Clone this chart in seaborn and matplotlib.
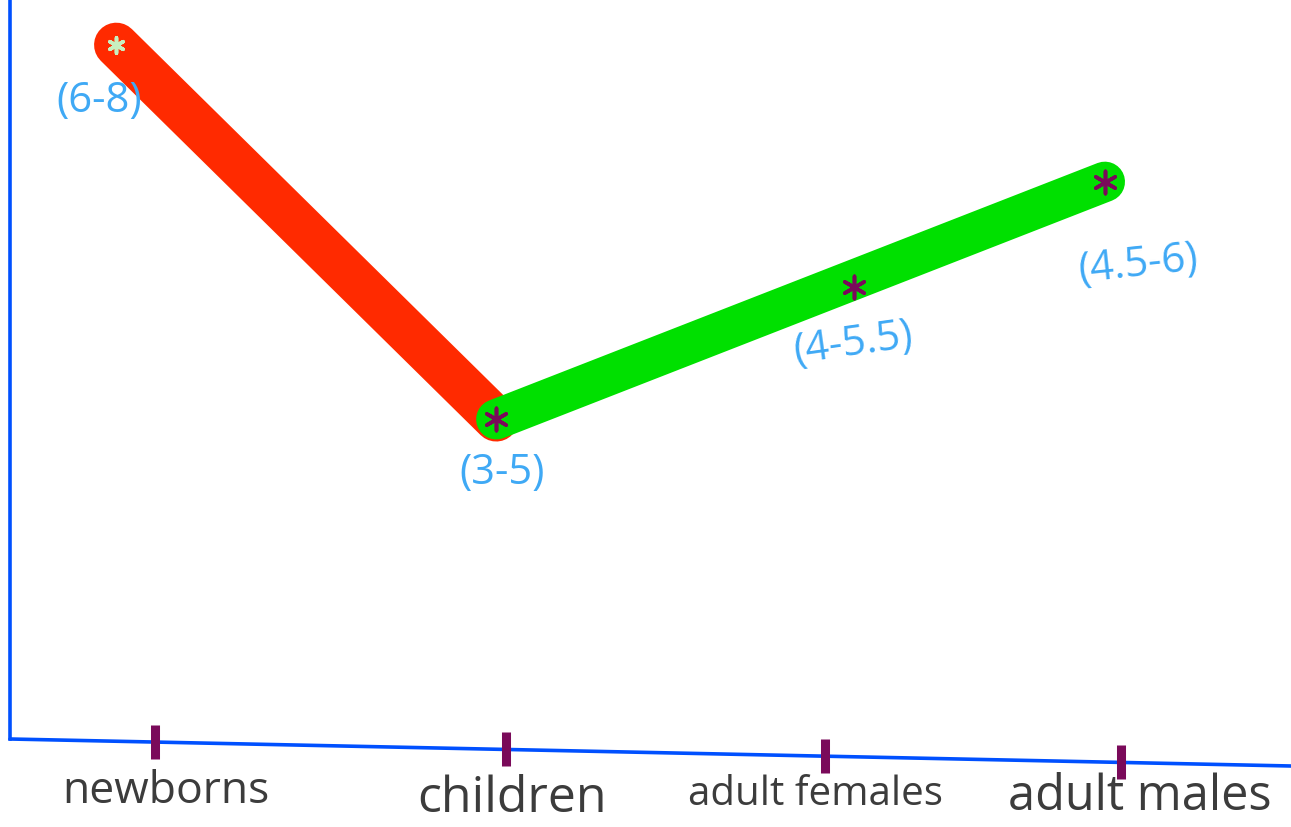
import seaborn as sns
import pandas as pd
from matplotlib import pyplot as plt
from matplotlib.transforms import ScaledTranslation

# groups and the hand-drawn level of each point (0-10 scale)
groups = ['newborns', 'children', 'adult females', 'adult males']
point_pos = [-0.12, 1.06, 2.17, 2.95]
tick_pos = [0.0, 1.09, 2.08, 3.0]
levels = [9.38, 4.32, 6.11, 7.53]
ranges = ['(6-8)', '(3-5)', '(4-5.5)', '(4.5-6)']
label_sizes = [32, 36, 29, 35]

df = pd.DataFrame({'group': groups, 'pos': point_pos, 'level': levels, 'range': ranges})

sns.set_style('white')
plt.rcParams['font.family'] = ['Open Sans', 'DejaVu Sans']

fig = plt.figure(figsize=(12.91, 8.28), dpi=100)
ax = fig.add_axes([10 / 1291, 88 / 828, 1281 / 1291, 740 / 828])
xmin, xmax = -0.45, 3.528
slant = -27 / 740

# red falling segment, green rising segment (children -> adult males)
sns.lineplot(data=df.iloc[[0, 1]], x='pos', y='level', ax=ax, color='#ff2a00',
             linewidth=32, solid_capstyle='round', sort=False)
sns.lineplot(data=df.iloc[[1, 3]], x='pos', y='level', ax=ax, color='#00e000',
             linewidth=29, solid_capstyle='round', sort=False)

# asterisk markers
marker_colors = ['#c8f0c0', '#7a0a5a', '#7a0a5a', '#7a0a5a']
for i, row in df.iterrows():
    ax.scatter(row['pos'], row['level'], marker=(6, 2, 0), s=260 if i else 120,
               color=marker_colors[i], linewidths=2.6, zorder=5)

# range annotations
offsets = [(-12, -40), (4, -38), (0, -40), (24, -59)]
rotations = [0, 0, 8, 6]
for i, row in df.iterrows():
    ax.annotate(row['range'], (row['pos'], row['level']), xytext=offsets[i],
                textcoords='offset points', ha='center', va='center',
                fontsize=30, color='#3fa9f5', rotation=rotations[i])

ax.set_xlim(xmin, xmax)
ax.set_ylim(0, 10)
ax.set_xlabel('')
ax.set_ylabel('')
ax.set_yticks([])
ax.set_xticks(tick_pos)
ax.set_xticklabels(groups)
ax.tick_params(axis='x', bottom=True, length=0, pad=21)

# hand-placed labels drift a little from their ticks
shifts = [(11, 0), (6, -5), (-9, -5), (19, -3)]
for lbl, sz, (dx, dy) in zip(ax.get_xticklabels(), label_sizes, shifts):
    lbl.set_fontsize(sz)
    lbl.set_color('#3c3c3c')
    lbl.set_transform(lbl.get_transform() +
                      ScaledTranslation(dx / 100, dy / 100, fig.dpi_scale_trans))

for side in ['top', 'right', 'bottom']:
    ax.spines[side].set_visible(False)
ax.spines['left'].set_color('#0050ff')
ax.spines['left'].set_linewidth(2.6)

# slightly slanted hand-drawn x axis
ax.plot([0, 1], [0, slant], transform=ax.transAxes, color='#0050ff',
        linewidth=2.6, clip_on=False, zorder=1)

# purple tick strokes sitting on the slanted axis
fx = [(t - xmin) / (xmax - xmin) for t in tick_pos]
ax.scatter(fx, [f * slant for f in fx], transform=ax.transAxes,
           marker='|', s=620, linewidths=6.5, color='#7a0a5a',
           clip_on=False, zorder=3)

fig.savefig('out.png', dpi=100, facecolor='white')
